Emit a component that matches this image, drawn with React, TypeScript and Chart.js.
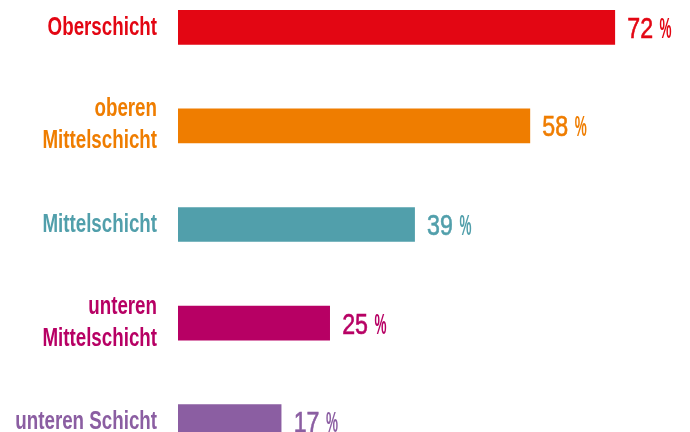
import React, { useEffect, useRef } from "react";
import { Chart, registerables } from "chart.js";

Chart.register(...registerables);

const categories: string[][] = [
  ["Oberschicht"],
  ["oberen", "Mittelschicht"],
  ["Mittelschicht"],
  ["unteren", "Mittelschicht"],
  ["unteren Schicht"],
];
const values: number[] = [72, 58, 39, 25, 17];
const colors: string[] = ["#e30613", "#ef7d00", "#519fab", "#b70064", "#8b5ea2"];

const FONT = '"Liberation Sans", Arial, sans-serif';

function drawScaled(ctx: any, text: string, x: number, y: number, sx: number, align: "left" | "right", stroke = 0) {
  ctx.save();
  ctx.translate(x, y);
  ctx.scale(sx, 1);
  ctx.textAlign = align;
  ctx.fillText(text, 0, 0);
  if (stroke > 0) {
    ctx.strokeStyle = ctx.fillStyle;
    ctx.lineWidth = stroke;
    ctx.strokeText(text, 0, 0);
  }
  ctx.restore();
}

const textPlugin = {
  id: "texts",
  afterDatasetsDraw(chart: any) {
    const ctx = chart.ctx;
    const meta = chart.getDatasetMeta(0);
    const left = chart.chartArea.left;
    ctx.save();
    ctx.textBaseline = "alphabetic";
    meta.data.forEach((bar: any, i: number) => {
      const c = bar.y;
      ctx.fillStyle = colors[i];
      // category label
      ctx.font = `bold 25px ${FONT}`;
      const lines = categories[i];
      const labelX = left - 21;
      if (lines.length === 1) {
        drawScaled(ctx, lines[0], labelX, c + 7.5, 0.75, "right");
      } else {
        drawScaled(ctx, lines[0], labelX, c - 9.5, 0.75, "right");
        drawScaled(ctx, lines[1], labelX, c + 22.5, 0.75, "right");
      }
      // value label
      const vx = bar.x + 12.5;
      ctx.font = `400 29px ${FONT}`;
      const num = String(values[i]);
      const numW = ctx.measureText(num).width * 0.8;
      drawScaled(ctx, num, vx, c + 10.5, 0.8, "left", 0.6);
      ctx.font = `bold 30px ${FONT}`;
      drawScaled(ctx, "%", vx + numW + 6.5, c + 10.5, 0.45, "left");
    });
    ctx.restore();
  },
};

export default function App() {
  const ref = useRef<HTMLCanvasElement | null>(null);
  useEffect(() => {
    if (!ref.current) return;
    const chart = new Chart(ref.current, {
      type: "bar",
      data: {
        labels: categories.map((l) => l.join(" ")),
        datasets: [
          {
            data: values,
            backgroundColor: colors,
            barThickness: 34,
            borderWidth: 0,
          },
        ],
      },
      options: {
        indexAxis: "y",
        animation: false,
        responsive: true,
        maintainAspectRatio: false,
        layout: { padding: { left: 178, right: 0, top: 0, bottom: 0 } },
        plugins: { legend: { display: false }, tooltip: { enabled: false } },
        scales: {
          x: { display: false, min: 0, max: 84.4 },
          y: { display: false },
        },
      },
      plugins: [textPlugin],
    });
    return () => chart.destroy();
  }, []);
  return (
    <div style={{ position: "absolute", left: 0, top: 0, width: 690, height: 432, overflow: "hidden", background: "#fff" }}>
      <div style={{ position: "absolute", left: 0, top: -22, width: 690, height: 493 }}>
        <canvas ref={ref} />
      </div>
    </div>
  );
}
